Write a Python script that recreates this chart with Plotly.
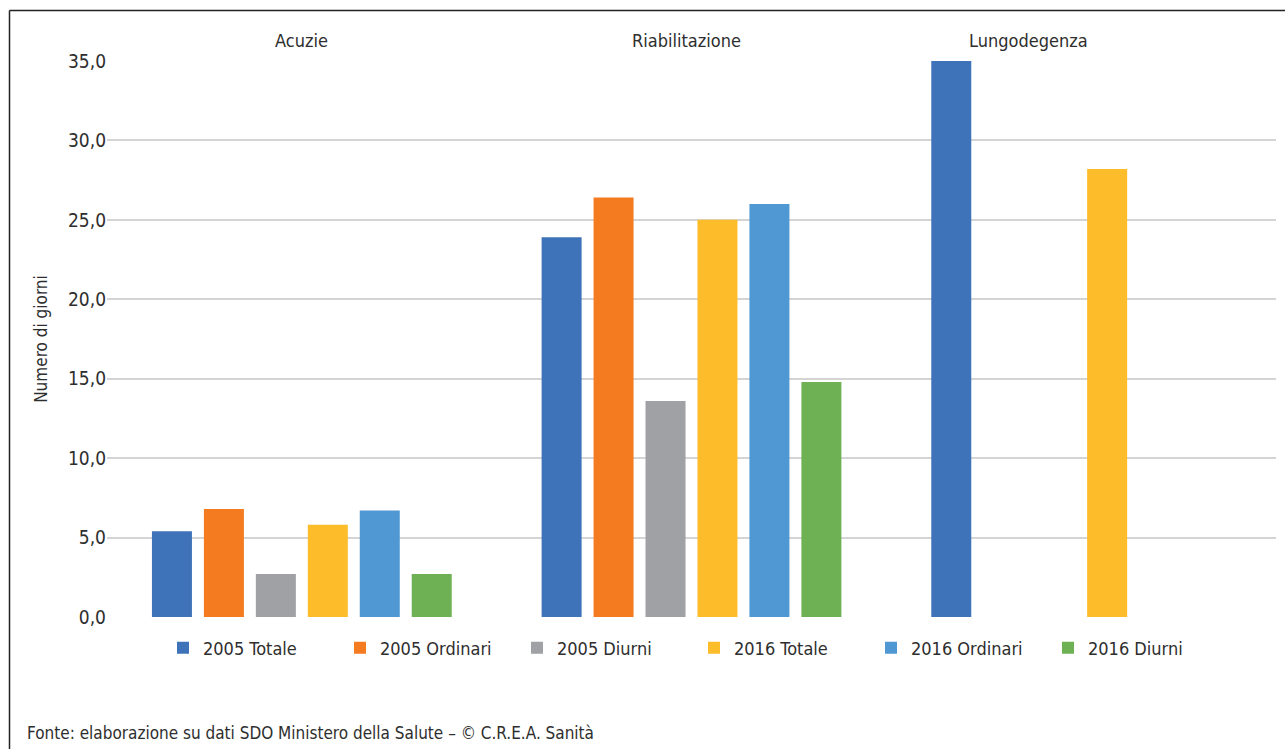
import plotly.graph_objects as go

# Ricoveri: degenza media (giorni) per tipo di attività
categorie = ["Acuzie", "Riabilitazione", "Lungodegenza"]

serie = ["2005 Totale", "2005 Ordinari", "2005 Diurni",
         "2016 Totale", "2016 Ordinari", "2016 Diurni"]

val_2005_totale = [5.4, 23.9, 35.0]
val_2005_ordinari = [6.8, 26.4, None]
val_2005_diurni = [2.7, 13.6, None]
val_2016_totale = [5.8, 25.0, 28.2]
val_2016_ordinari = [6.7, 26.0, None]
val_2016_diurni = [2.7, 14.8, None]

colori = ["#3F73B9", "#F47B20", "#A0A1A4", "#FDBC2A", "#5098D3", "#6EB155"]

tick_vals = [0, 5, 10, 15, 20, 25, 30, 35]
tick_text = ["0,0", "5,0", "10,0", "15,0", "20,0", "25,0", "30,0", "35,0"]

fonte = "Fonte: elaborazione su dati SDO Ministero della Salute – © C.R.E.A. Sanità"

FONT = "Liberation Sans Narrow, Arial Narrow, DejaVu Sans Condensed, sans-serif"
TXT = "#2E2E2E"

W, H = 1285, 749
ML, MR, MT, MB = 107, 9, 61, 132
PW, PH = W - ML - MR, H - MT - MB


def px_x(px):
    return (px - ML) / PW


def px_y(py):
    return (H - MB - py) / PH


valori = [val_2005_totale, val_2005_ordinari, val_2005_diurni,
          val_2016_totale, val_2016_ordinari, val_2016_diurni]

fig = go.Figure()
for nome, v, c in zip(serie, valori, colori):
    fig.add_trace(go.Bar(
        name=nome, x=categorie, y=v,
        marker=dict(color=c, line=dict(width=0)),
        hovertemplate="%{x}<br>" + nome + ": %{y:.1f}<extra></extra>",
    ))

fig.update_layout(
    width=W, height=H,
    margin=dict(l=ML, r=MR, t=MT, b=MB),
    paper_bgcolor="white", plot_bgcolor="white",
    barmode="group", bargap=0.2, bargroupgap=0.23,
    font=dict(family=FONT, size=18, color=TXT),
    showlegend=True,
    legend=dict(
        orientation="h", x=px_x(694), y=px_y(648),
        xanchor="center", yanchor="middle",
        font=dict(family=FONT, size=18, color=TXT),
        entrywidthmode="pixels", entrywidth=132,
        bgcolor="rgba(0,0,0,0)", traceorder="normal",
    ),
    xaxis=dict(
        showticklabels=False, showgrid=False, zeroline=False,
        showline=False, ticks="", fixedrange=True,
    ),
    yaxis=dict(
        range=[0, 35], tickvals=tick_vals, ticktext=tick_text,
        showgrid=True, gridcolor="#D4D4D4", gridwidth=2,
        zeroline=False, showline=False, ticks="",
        tickfont=dict(family=FONT, size=19, color=TXT),
        title=dict(text="Numero di giorni", standoff=16,
                   font=dict(family=FONT, size=17, color=TXT)),
        fixedrange=True,
    ),
)

# etichette delle categorie sopra l'area del grafico
shift = [0, -5, -53]
for cat, s in zip(categorie, shift):
    fig.add_annotation(
        x=cat, xref="x", y=px_y(40), yref="paper",
        text=cat, showarrow=False, xshift=s,
        xanchor="center", yanchor="middle",
        font=dict(family=FONT, size=18, color=TXT),
    )

# nota sulla fonte
fig.add_annotation(
    x=px_x(25), xref="paper", y=px_y(733), yref="paper",
    text=fonte, showarrow=False, xanchor="left", yanchor="middle",
    font=dict(family=FONT, size=17, color=TXT),
)

# cornice (lato superiore e sinistro)
fig.add_shape(type="line", xref="paper", yref="paper",
              x0=px_x(9.5), x1=px_x(W + 5), y0=px_y(10.5), y1=px_y(10.5),
              line=dict(color="#222222", width=1.5))
fig.add_shape(type="line", xref="paper", yref="paper",
              x0=px_x(9.5), x1=px_x(9.5), y0=px_y(10.5), y1=px_y(H + 5),
              line=dict(color="#222222", width=1.5))

fig.write_html("out.html", config={"displayModeBar": False})
